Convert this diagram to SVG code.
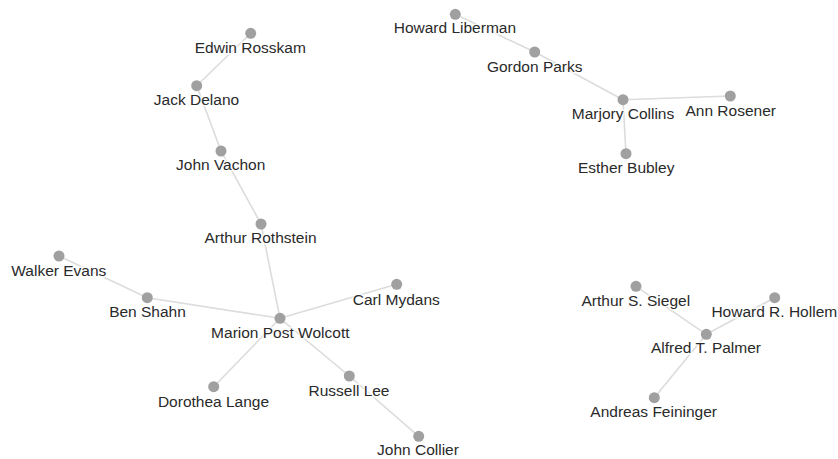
<svg xmlns="http://www.w3.org/2000/svg" width="838" height="459" viewBox="0 0 838 459">
<style>
.e{stroke:#dcdcdc;stroke-width:1.6;fill:none}
.n circle{fill:#a0a0a0}
.n text{font-family:"Liberation Sans",Arial,sans-serif;font-size:15.5px;fill:#2a2a2a;text-anchor:middle;stroke:#fff;stroke-width:3;stroke-opacity:0.8;paint-order:stroke}
</style>
<rect width="838" height="459" fill="#fff"/>
<g id="edges">
<line class="e" x1="250.7" y1="33.3" x2="196.7" y2="85.7"/>
<line class="e" x1="196.7" y1="85.7" x2="221" y2="151"/>
<line class="e" x1="221" y1="151" x2="261" y2="224"/>
<line class="e" x1="261" y1="224" x2="280" y2="318.3"/>
<line class="e" x1="59" y1="256" x2="147.3" y2="297.7"/>
<line class="e" x1="147.3" y1="297.7" x2="280" y2="318.3"/>
<line class="e" x1="396.7" y1="284.3" x2="280" y2="318.3"/>
<line class="e" x1="213.7" y1="386.7" x2="280" y2="318.3"/>
<line class="e" x1="349.3" y1="376" x2="280" y2="318.3"/>
<line class="e" x1="349.3" y1="376" x2="418.7" y2="436.3"/>
<line class="e" x1="455.3" y1="14.3" x2="534.7" y2="52"/>
<line class="e" x1="534.7" y1="52" x2="623" y2="99.7"/>
<line class="e" x1="623" y1="99.7" x2="730.3" y2="96"/>
<line class="e" x1="623" y1="99.7" x2="626" y2="153.7"/>
<line class="e" x1="636" y1="286.3" x2="706.3" y2="334.3"/>
<line class="e" x1="774.7" y1="297.7" x2="706.3" y2="334.3"/>
<line class="e" x1="654.3" y1="397.7" x2="706.3" y2="334.3"/>
</g>
<g id="edwin-rosskam" class="n"><circle cx="250.7" cy="33.3" r="5.5"/><text x="250.3" y="52.5">Edwin Rosskam</text></g>
<g id="jack-delano" class="n"><circle cx="196.7" cy="85.7" r="5.5"/><text x="196.5" y="104.5">Jack Delano</text></g>
<g id="john-vachon" class="n"><circle cx="221" cy="151" r="5.5"/><text x="220.7" y="170">John Vachon</text></g>
<g id="arthur-rothstein" class="n"><circle cx="261" cy="224" r="5.5"/><text x="260.5" y="243.3">Arthur Rothstein</text></g>
<g id="walker-evans" class="n"><circle cx="59" cy="256" r="5.5"/><text x="58.8" y="275.5">Walker Evans</text></g>
<g id="ben-shahn" class="n"><circle cx="147.3" cy="297.7" r="5.5"/><text x="147.5" y="317.3">Ben Shahn</text></g>
<g id="marion-post-wolcott" class="n"><circle cx="280" cy="318.3" r="5.5"/><text x="280.3" y="337.7">Marion Post Wolcott</text></g>
<g id="carl-mydans" class="n"><circle cx="396.7" cy="284.3" r="5.5"/><text x="396.3" y="304.7">Carl Mydans</text></g>
<g id="dorothea-lange" class="n"><circle cx="213.7" cy="386.7" r="5.5"/><text x="213.5" y="406.7">Dorothea Lange</text></g>
<g id="russell-lee" class="n"><circle cx="349.3" cy="376" r="5.5"/><text x="349" y="395.7">Russell Lee</text></g>
<g id="john-collier" class="n"><circle cx="418.7" cy="436.3" r="5.5"/><text x="418" y="455">John Collier</text></g>
<g id="howard-liberman" class="n"><circle cx="455.3" cy="14.3" r="5.5"/><text x="454.9" y="33.3">Howard Liberman</text></g>
<g id="gordon-parks" class="n"><circle cx="534.7" cy="52" r="5.5"/><text x="534.7" y="71.7">Gordon Parks</text></g>
<g id="marjory-collins" class="n"><circle cx="623" cy="99.7" r="5.5"/><text x="623" y="119">Marjory Collins</text></g>
<g id="ann-rosener" class="n"><circle cx="730.3" cy="96" r="5.5"/><text x="730.7" y="115.7">Ann Rosener</text></g>
<g id="esther-bubley" class="n"><circle cx="626" cy="153.7" r="5.5"/><text x="626.2" y="173.3">Esther Bubley</text></g>
<g id="arthur-s-siegel" class="n"><circle cx="636" cy="286.3" r="5.5"/><text x="635.8" y="306">Arthur S. Siegel</text></g>
<g id="howard-r-hollem" class="n"><circle cx="774.7" cy="297.7" r="5.5"/><text x="774.3" y="316.7">Howard R. Hollem</text></g>
<g id="alfred-t-palmer" class="n"><circle cx="706.3" cy="334.3" r="5.5"/><text x="706" y="353.3">Alfred T. Palmer</text></g>
<g id="andreas-feininger" class="n"><circle cx="654.3" cy="397.7" r="5.5"/><text x="653.7" y="417.3">Andreas Feininger</text></g>
</svg>
